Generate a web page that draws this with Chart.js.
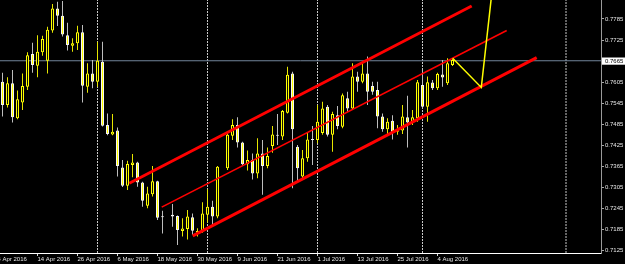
<!DOCTYPE html>
<html>
<head>
<meta charset="utf-8">
<script src="https://cdn.jsdelivr.net/npm/chart.js@4.4.0/dist/chart.umd.min.js"></script>
<style>
  html, body { margin: 0; padding: 0; background: #000; }
  canvas { display: block; }
</style>
</head>
<body>
<canvas id="price-chart" width="625" height="264"></canvas>
<script>
// daily candles, bar index 0..90 (null = no candle visible)
const opens = [
  0.7606, 0.7540, 0.7602, 0.7502, 0.7547, 0.7592, 0.7685, 0.7652, 0.7690, 0.7666,
  0.7752, 0.7815, 0.7794, 0.7739, 0.7709, 0.7716, 0.7747, 0.7592, 0.7630, 0.7606,
  0.7663, 0.7483, 0.7456, 0.7467, 0.7362, 0.7310, 0.7369, 0.7376, 0.7319, 0.7253,
  0.7286, 0.7323, 0.7222, null,   0.7227, 0.7224, 0.7181, 0.7187, 0.7220, 0.7176,
  0.7179, 0.7227, 0.7250, 0.7222, null,   0.7360, 0.7452, 0.7483, 0.7433, 0.7371,
  0.7383, 0.7345, 0.7402, 0.7366, 0.7423, 0.7455, 0.7450, 0.7518, 0.7630, 0.7421,
  0.7336, 0.7388, 0.7443, 0.7440, 0.7460, 0.7535, 0.7455, 0.7511, 0.7478, 0.7559,
  0.7530, 0.7621, 0.7606, 0.7630, 0.7594, 0.7583, 0.7507, 0.7471, 0.7495, 0.7464,
  0.7467, 0.7505, 0.7490, 0.7502, 0.7597, 0.7535, 0.7604, 0.7588, 0.7627, 0.7602,
  0.7654
];
const highs = [
  0.7632, 0.7619, 0.7640, 0.7581, 0.7630, 0.7690, 0.7717, 0.7739, 0.7737, 0.7763,
  0.7828, 0.7834, 0.7836, 0.7774, 0.7730, 0.7766, 0.7768, 0.7659, 0.7668, 0.7720,
  0.7720, 0.7516, 0.7514, 0.7476, 0.7383, 0.7381, 0.7400, 0.7378, 0.7321, 0.7307,
  0.7366, 0.7324, 0.7239, null,   0.7258, 0.7225, 0.7217, 0.7241, 0.7231, 0.7189,
  0.7263, 0.7300, 0.7267, 0.7366, null,   0.7464, 0.7499, 0.7505, 0.7435, 0.7410,
  0.7402, 0.7445, 0.7440, 0.7419, 0.7480, 0.7514, 0.7526, 0.7649, 0.7635, 0.7426,
  0.7412, 0.7460, 0.7480, 0.7540, 0.7549, 0.7540, 0.7521, 0.7537, 0.7573, 0.7578,
  0.7659, 0.7635, 0.7663, 0.7678, 0.7606, 0.7606, 0.7516, 0.7502, 0.7511, 0.7483,
  0.7540, 0.7566, 0.7526, 0.7611, 0.7640, 0.7621, 0.7611, 0.7632, 0.7668, 0.7673,
  0.7673
];
const lows = [
  0.7507, 0.7533, 0.7490, 0.7499, 0.7526, 0.7583, 0.7632, 0.7619, 0.7680, 0.7630,
  0.7746, 0.7765, 0.7735, 0.7695, 0.7692, 0.7697, 0.7547, 0.7575, 0.7588, 0.7592,
  0.7479, 0.7454, 0.7454, 0.7336, 0.7306, 0.7298, 0.7334, 0.7307, 0.7250, 0.7246,
  0.7279, 0.7212, 0.7174, null,   0.7193, 0.7141, 0.7165, 0.7157, 0.7170, 0.7165,
  0.7176, 0.7205, 0.7198, 0.7217, null,   0.7355, 0.7440, 0.7419, 0.7366, 0.7353,
  0.7328, 0.7331, 0.7284, 0.7360, 0.7404, 0.7426, 0.7440, 0.7516, 0.7303, 0.7321,
  0.7331, 0.7378, 0.7369, 0.7431, 0.7455, 0.7450, 0.7407, 0.7471, 0.7474, 0.7521,
  0.7528, 0.7578, 0.7602, 0.7540, 0.7569, 0.7474, 0.7464, 0.7455, 0.7442, 0.7455,
  0.7457, 0.7419, 0.7483, 0.7492, 0.7530, 0.7492, 0.7583, 0.7583, 0.7592, 0.7597,
  0.7651
];
const closes = [
  0.7540, 0.7602, 0.7505, 0.7556, 0.7594, 0.7682, 0.7654, 0.7692, 0.7728, 0.7754,
  0.7815, 0.7794, 0.7741, 0.7711, 0.7716, 0.7747, 0.7595, 0.7630, 0.7606, 0.7666,
  0.7481, 0.7457, 0.7464, 0.7366, 0.7310, 0.7372, 0.7376, 0.7319, 0.7267, 0.7288,
  0.7323, 0.7219, 0.7220, null,   0.7222, 0.7184, 0.7188, 0.7222, 0.7182, 0.7181,
  0.7231, 0.7250, 0.7222, 0.7364, null,   0.7455, 0.7483, 0.7433, 0.7371, 0.7383,
  0.7345, 0.7402, 0.7366, 0.7395, 0.7456, 0.7452, 0.7523, 0.7626, 0.7471, 0.7360,
  0.7388, 0.7442, 0.7440, 0.7492, 0.7530, 0.7455, 0.7514, 0.7480, 0.7568, 0.7530,
  0.7621, 0.7606, 0.7630, 0.7578, 0.7578, 0.7507, 0.7471, 0.7492, 0.7461, 0.7471,
  0.7507, 0.7490, 0.7505, 0.7605, 0.7535, 0.7605, 0.7588, 0.7628, 0.7618, 0.7659,
  0.7668
];

const yTicks = [0.7125, 0.7185, 0.7245, 0.7305, 0.7365, 0.7425, 0.7485, 0.7545, 0.7605, 0.7665, 0.7725, 0.7785];
const xTickIdx = [-1, 7, 15, 23, 31, 39, 47, 55, 63, 71, 79, 87];
const xTickLabels = ["4 Apr 2016", "14 Apr 2016", "26 Apr 2016", "6 May 2016", "18 May 2016", "30 May 2016",
  "9 Jun 2016", "21 Jun 2016", "1 Jul 2016", "13 Jul 2016", "25 Jul 2016", "4 Aug 2016"];
const separators = [19, 41, 63, 84, 112.7];
const currentPrice = 0.7666;
const highlightTick = 0.7665;

// channel lines and projection (bar index, price)
const channelUpper = [{ x: 25.36, y: 0.7317 }, { x: 93.84, y: 0.7822 }];
const channelMiddle = [{ x: 31.84, y: 0.7249 }, { x: 100.84, y: 0.7752 }];
const channelLower = [{ x: 38.04, y: 0.7167 }, { x: 106.84, y: 0.7675 }];
const projection = [{ x: 90.04, y: 0.7673 }, { x: 95.76, y: 0.7590 }, { x: 97.82, y: 0.7853 }];

const X_MIN = -0.5, X_MAX = 119.7;
const Y_MIN = 0.71183, Y_MAX = 0.78391;
const FONT = { family: "'Liberation Sans', Arial, sans-serif", size: 6 };

const bodies = [], wicks = [], bodyFill = [], bodyEdge = [], wickColor = [];
opens.forEach((o, i) => {
  if (o === null) return;
  const up = closes[i] > o;
  bodies.push({ x: i, y: [o, closes[i]] });
  wicks.push({ x: i, y: [lows[i], highs[i]] });
  bodyFill.push(up ? "#111100" : "#ffff00");
  bodyEdge.push(up ? "#ffff00" : "#f4f4f4");
  wickColor.push(up ? "#e6e600" : "#bdbdbd");
});

const lineSet = (data, color, width, order, dash) => ({
  type: "line",
  data: data,
  borderColor: color,
  borderWidth: width,
  borderDash: dash || [],
  pointRadius: 0,
  fill: false,
  tension: 0,
  order: order,
});

const datasets = [
  { type: "bar", data: wicks, backgroundColor: wickColor, borderWidth: 0, grouped: false,
    barPercentage: 1, categoryPercentage: 1, maxBarThickness: 1, inflateAmount: 0, order: 3 },
  { type: "bar", data: bodies, backgroundColor: bodyFill, borderColor: bodyEdge, borderWidth: 1,
    borderSkipped: false, grouped: false, barPercentage: 1, categoryPercentage: 1,
    maxBarThickness: 3, minBarLength: 1, inflateAmount: 0, order: 2 },
  lineSet([{ x: X_MIN, y: currentPrice }, { x: X_MAX, y: currentPrice }], "#72849a", 1, 4),
  lineSet(channelUpper, "#ff0000", 3, 1),
  lineSet(channelMiddle, "#ff0000", 1.6, 1),
  lineSet(channelLower, "#ff0000", 3, 1),
  lineSet(projection, "#ffff00", 1.5, 0),
];
separators.forEach(s => {
  datasets.push(lineSet([{ x: s, y: Y_MIN }, { x: s, y: Y_MAX }], "#c8c8c8", 1, 5, [2, 1]));
});

const isHighlight = ctx => ctx.tick && Math.abs(ctx.tick.value - highlightTick) < 1e-6;

new Chart(document.querySelector("#price-chart"), {
  type: "bar",
  data: { datasets: datasets },
  options: {
    responsive: false,
    animation: false,
    events: [],
    layout: { padding: 0 },
    plugins: { legend: { display: false }, tooltip: { enabled: false } },
    scales: {
      x: {
        type: "linear",
        position: "bottom",
        min: X_MIN,
        max: X_MAX,
        bounds: "data",
        offset: false,
        grid: { drawOnChartArea: false, drawTicks: true, tickLength: 3, color: "#d8d8d8", offset: false },
        border: { display: true, color: "#ffffff", width: 1 },
        ticks: {
          autoSkip: false,
          maxRotation: 0,
          minRotation: 0,
          align: "start",
          padding: 0,
          color: "#e6e6e6",
          font: FONT,
          callback: v => xTickLabels[xTickIdx.indexOf(v)],
        },
        afterBuildTicks: s => { s.ticks = xTickIdx.map(v => ({ value: v })); },
        afterFit: s => { s.height = 11; s.paddingLeft = 0; s.paddingRight = 0; },
      },
      y: {
        type: "linear",
        position: "right",
        min: Y_MIN,
        max: Y_MAX,
        bounds: "data",
        grid: { drawOnChartArea: false, drawTicks: true, tickLength: 3, color: "#a8a8a8" },
        border: { display: true, color: "#9a9a9a", width: 1 },
        ticks: {
          padding: 1,
          font: FONT,
          color: ctx => isHighlight(ctx) ? "#000000" : "#e6e6e6",
          showLabelBackdrop: ctx => isHighlight(ctx),
          backdropColor: "#ffffff",
          backdropPadding: { top: 0, bottom: 0, left: 3, right: 2 },
          callback: v => v.toFixed(4),
        },
        afterBuildTicks: s => { s.ticks = yTicks.map(v => ({ value: v })); },
        afterFit: s => { s.width = 24; s.paddingTop = 0; s.paddingBottom = 0; },
      },
    },
  },
});
</script>
</body>
</html>
